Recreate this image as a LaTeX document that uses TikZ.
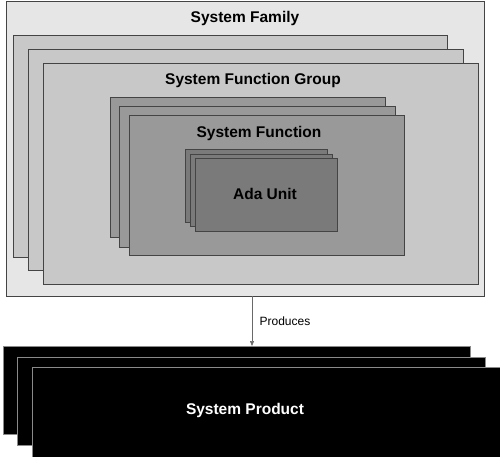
\documentclass[tikz,border=0pt]{standalone}
\usepackage{fontspec}
\setmainfont{Liberation Sans}
\usetikzlibrary{arrows.meta}
\definecolor{famback}{HTML}{E6E6E6}
\definecolor{grpfill}{HTML}{C8C8C8}
\definecolor{fnfill}{HTML}{999999}
\definecolor{adafill}{HTML}{7A7A7A}
\definecolor{edge}{HTML}{444444}
\definecolor{prodedge}{HTML}{8A8A8A}
\tikzset{
  box/.style={draw=edge, line width=0.8pt},
  famstyle/.style={box, fill=famback},
  grpstyle/.style={box, fill=grpfill},
  fnstyle/.style={box, fill=fnfill},
  adastyle/.style={box, fill=adafill},
  prodstyle/.style={draw=prodedge, line width=0.8pt, fill=black},
  title/.style={font=\bfseries\fontsize{15.5}{18}\selectfont, text=black, inner sep=0pt},
  conn/.style={draw=edge!80, line width=0.6pt, -{Triangle[length=5pt,width=4pt]}},
}
\begin{document}
\begin{tikzpicture}[x=1pt,y=-1pt]
\useasboundingbox (0,0) rectangle (500,456);
% system family
\path[famstyle] (6,1) rectangle (484,296);
\node[title] (famt) at (245,18) {System Family};
\path[grpstyle] (13,35) rectangle (447,257);
\path[grpstyle] (28,49) rectangle (463,270);
\path[grpstyle] (43,63) rectangle (478,284);
\node[title] (grpt) at (253,80) {System Function Group};
\path[fnstyle] (110,97) rectangle (385,237);
\path[fnstyle] (119,106) rectangle (395,247);
\path[fnstyle] (129,115) rectangle (404,255);
\node[title] (fnt) at (259,133) {System Function};
\path[adastyle] (185,149) rectangle (327,222);
\path[adastyle] (190,154) rectangle (332,226);
\path[adastyle] (195,158) rectangle (337,231);
\node[title] (adat) at (265,194) {Ada Unit};
\coordinate (famb) at (252,296);
% product
\path[prodstyle] (3,346) rectangle (470,434);
\path[prodstyle] (17,357) rectangle (485,445);
\path[prodstyle] (32,367) rectangle (502,458);
\node[title, text=white] (prodt) at (245,410) {System Product};
\coordinate (prodtop) at (252,346);
\draw[conn] (famb) -- (prodtop) node[midway, right=4pt, font=\fontsize{12}{14}\selectfont, text=black] (prodlabel) {Produces};
\end{tikzpicture}
\end{document}
